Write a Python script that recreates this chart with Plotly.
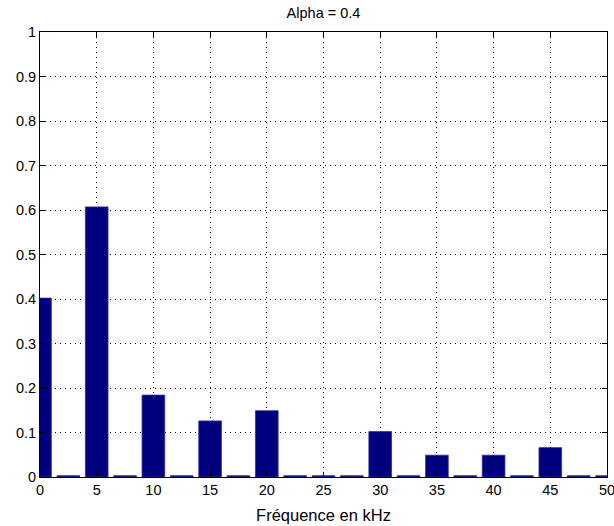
import plotly.graph_objects as go

# Spectrum lines (kHz) and their amplitudes
freq_khz = [0, 2.5, 5, 7.5, 10, 12.5, 15, 17.5, 20, 22.5, 25,
            27.5, 30, 32.5, 35, 37.5, 40, 42.5, 45, 47.5, 50]
amplitude = [0.402, 0.003, 0.607, 0.003, 0.184, 0.003, 0.126, 0.003, 0.149, 0.003, 0.003,
             0.003, 0.102, 0.003, 0.049, 0.003, 0.049, 0.003, 0.066, 0.003, 0.003]

x_ticks = [0, 5, 10, 15, 20, 25, 30, 35, 40, 45, 50]
y_ticks = [0, 0.1, 0.2, 0.3, 0.4, 0.5, 0.6, 0.7, 0.8, 0.9, 1]
y_tick_text = ["0", "0.1", "0.2", "0.3", "0.4", "0.5", "0.6", "0.7", "0.8", "0.9", "1"]

font_family = "Liberation Sans, Arial, sans-serif"

fig = go.Figure(
    go.Bar(
        x=freq_khz,
        y=amplitude,
        width=2.0,
        marker=dict(color="#00007f", line=dict(color="#3030a0", width=0.8)),
    )
)

axis_common = dict(
    showline=True,
    linecolor="black",
    linewidth=1,
    mirror="ticks",
    ticks="inside",
    ticklen=5,
    tickcolor="black",
    showgrid=True,
    gridcolor="black",
    gridwidth=1,
    griddash="1px,4px",
    zeroline=False,
    automargin=False,
    ticklabeloverflow="allow",
    tickfont=dict(family=font_family, size=14.5, color="black"),
)

fig.update_xaxes(
    range=[0, 50],
    tickvals=x_ticks,
    ticktext=[str(v) for v in x_ticks],
    title=dict(text="Fréquence en kHz", font=dict(family=font_family, size=16.5, color="black"), standoff=12),
    **axis_common,
)
fig.update_yaxes(
    range=[0, 1],
    tickvals=y_ticks,
    ticktext=y_tick_text,
    **axis_common,
)

fig.update_layout(
    width=614,
    height=526,
    margin=dict(l=40, r=7, t=32, b=49),
    paper_bgcolor="white",
    plot_bgcolor="white",
    showlegend=False,
    title=dict(
        text="Alpha = 0.4",
        x=(40 + 607) / 2 / 614,
        xanchor="center",
        y=1 - 13 / 526,
        yanchor="middle",
        font=dict(family=font_family, size=14.5, color="black"),
    ),
    font=dict(family=font_family, size=14.5, color="black"),
)

fig.write_html("out.html")
